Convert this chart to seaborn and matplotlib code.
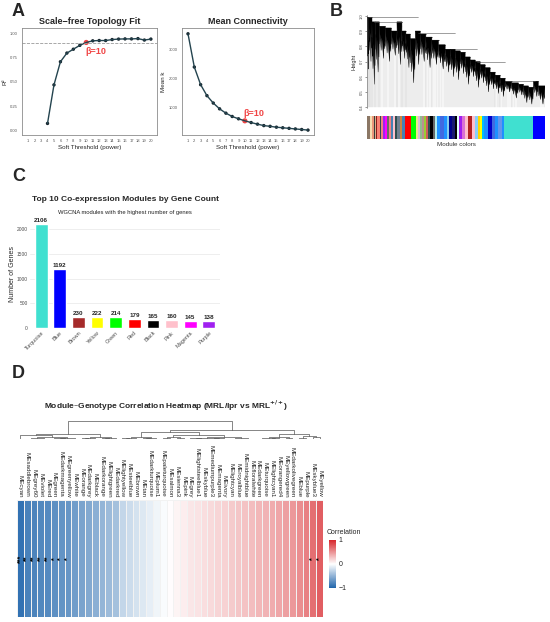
import numpy as np
import pandas as pd
import matplotlib
matplotlib.use("Agg")
import matplotlib.pyplot as plt
import seaborn as sns
from matplotlib.colors import LinearSegmentedColormap

# ---------------- data ----------------
# A: soft threshold selection
r2_powers = [4, 5, 6, 7, 8, 9, 10, 11, 12, 13, 14, 15, 16, 17, 18, 19, 20]
r2_values = [0.07, 0.47, 0.71, 0.80, 0.84, 0.88, 0.91, 0.927, 0.93, 0.93, 0.94,
             0.945, 0.947, 0.947, 0.95, 0.935, 0.945]
k_powers = list(range(1, 21))
mean_k = [3560, 2410, 1800, 1420, 1165, 965, 815, 700, 620, 550, 490, 435, 385,
          360, 330, 310, 290, 270, 250, 230]
chosen_power = 10
r2_cutoff = 0.9

# B: gene dendrogram, coarse clades (leaf width, top height, deepest tip)
clade_widths = [5, 10, 10, 12, 18, 18, 17, 15, 12, 13, 15, 15, 17, 18, 20, 20, 15, 15,
                15, 15, 15, 15, 15, 15, 15, 15, 15, 15, 20, 20, 15, 15, 15, 15, 20]
clade_tops = [0.99, 0.99, 0.96, 0.96, 0.93, 0.92, 0.90, 0.96, 0.90, 0.88, 0.85, 0.90,
              0.88, 0.86, 0.84, 0.81, 0.78, 0.78, 0.77, 0.76, 0.73, 0.71, 0.70, 0.68,
              0.66, 0.63, 0.61, 0.59, 0.57, 0.56, 0.55, 0.54, 0.53, 0.57, 0.54]
clade_bottoms = [0.65, 0.70, 0.55, 0.63, 0.72, 0.70, 0.74, 0.68, 0.72, 0.66, 0.56, 0.68,
                 0.70, 0.66, 0.68, 0.65, 0.63, 0.60, 0.58, 0.62, 0.55, 0.60, 0.53, 0.56,
                 0.50, 0.52, 0.49, 0.47, 0.50, 0.46, 0.48, 0.43, 0.42, 0.47, 0.42]
# upper merges: (from leaf, to leaf, height)
upper_merges = [(2, 153, 0.99), (20, 105, 0.96), (153, 265, 0.89), (265, 330, 0.785),
                (330, 415, 0.70), (415, 505, 0.575)]
# module colour strip along the dendrogram order
strip_colors = ["#8b7765", "#f5deb3", "#e9967a", "#3b3b3b", "#d2b48c", "#8b1a1a", "#fa8072",
                "#2f4f4f", "#f08080", "#a020f0", "#ff00ff", "#696969", "#f08080", "#4682b4",
                "#ffc0cb", "#2f4f4f", "#708090", "#cd853f", "#4682b4", "#ff0000", "#00ff00",
                "#f0e68c", "#d8bfd8", "#8fbc8f", "#bc8f8f", "#9acd32", "#cd5c5c", "#2f4f4f",
                "#000000", "#696969", "#afeeee", "#1e90ff", "#4169e1", "#1e90ff", "#87ceeb",
                "#00008b", "#191970", "#000000", "#e0ffff", "#a020f0", "#da70d6", "#ffc0cb",
                "#b22222", "#ffc0cb", "#87cefa", "#ffd700", "#ffff00", "#00bfff", "#1e90ff",
                "#0000cd", "#4169e1", "#1e90ff", "#6495ed", "#1e90ff", "#40e0d0", "#0000ff"]
strip_sizes = [8, 6, 6, 3, 5, 3, 7, 4, 7, 4, 7, 5, 7, 6, 7, 6, 7, 8, 7, 19, 15, 6, 6, 6,
               6, 6, 6, 6, 8, 6, 8, 9, 10, 10, 7, 8, 10, 6, 6, 8, 10, 10, 12, 8, 8, 6, 8,
               6, 12, 10, 10, 10, 10, 8, 87, 35]

# C: top 10 modules
modules = ["Turquoise", "Blue", "Brown", "Yellow", "Green", "Red", "Black", "Pink",
           "Magenta", "Purple"]
gene_counts = [2106, 1192, 230, 222, 214, 179, 165, 160, 145, 138]
module_hex = ["#40E0D0", "#0000FF", "#A52A2A", "#FFFF00", "#00FF00", "#FF0000",
              "#000000", "#FFC0CB", "#FF00FF", "#A020F0"]

# D: module-genotype correlation
me_names = ["MEcyan", "MEsaddlebrown", "MEgrey60", "MEviolet", "MEred", "MEgreen",
            "MEdarkmagenta", "MEgreenyellow", "MEwhite", "MEorange", "MEdarkgrey",
            "MEblack", "MEdarkorange", "MElightgreen", "MEdarkred", "MElightyellow",
            "MEsteelblue", "MEbrown", "MEtan", "MEdarkturquoise", "MEplum1",
            "MEpaleturquoise", "MEsalmon", "MEsienna3", "MEpink", "MEgrey",
            "MElightsteelblue1", "MEskyblue", "MEmediumpurple3", "MEmagenta", "MEivory",
            "MElightcyan", "MEroyalblue", "MEmidnightblue", "MEfloralwhite", "MEdarkgreen",
            "MEturquoise", "MElightcyan1", "MEorangered4", "MEyellowgreen",
            "MEdarkolivegreen", "MEblue", "MEpurple", "MEskyblue3", "MEyellow"]
me_corr = [-0.92, -0.82, -0.80, -0.78, -0.76, -0.72, -0.70, -0.68, -0.64, -0.60, -0.56,
           -0.52, -0.48, -0.44, -0.40, -0.27, -0.23, -0.19, -0.15, -0.11, -0.07, -0.03,
           0.01, 0.05, 0.08, 0.11, 0.13, 0.15, 0.17, 0.19, 0.21, 0.24, 0.26, 0.28, 0.30,
           0.33, 0.35, 0.38, 0.41, 0.44, 0.47, 0.52, 0.58, 0.66, 0.74]
me_stars = ["***", "**", "**", "**", "**", "*", "*", "*"] + [""] * 35 + ["*", "*"]

# ---------------- style ----------------
sns.set_style("white")
plt.rcParams['font.family'] = ['Liberation Sans', 'DejaVu Sans']

W, H = 550, 622
fig = plt.figure(figsize=(W / 100, H / 100), dpi=100)


def px_rect(x0, y0, x1, y1):
    return [x0 / W, 1 - y1 / H, (x1 - x0) / W, (y1 - y0) / H]


def box_style(ax):
    for s in ax.spines.values():
        s.set_color("#8c8c8c")
        s.set_linewidth(0.6)
    ax.tick_params(labelsize=3, colors="#555555", length=1.5, width=0.4, pad=1.5)


line_col = "#24444f"
pt_col = "#15232b"
red = "#f04545"

# ---------------- A left ----------------
ax1 = fig.add_axes(px_rect(22, 28, 157, 135))
sns.lineplot(x=r2_powers, y=r2_values, ax=ax1, color=line_col, lw=1)
sns.scatterplot(x=r2_powers, y=r2_values, ax=ax1, color=pt_col, s=6, edgecolor="none")
ax1.axhline(r2_cutoff, color="#9a9a9a", lw=0.6, ls="--")
i10 = r2_powers.index(chosen_power)
sns.scatterplot(x=[chosen_power], y=[r2_values[i10]], ax=ax1, color=red, s=14,
                edgecolor="none")
ax1.text(chosen_power - 0.1, 0.82, "β=10", color=red, fontsize=6.5, fontweight="bold",
         ha="left", va="center")
ax1.set_xlim(0.05, 20.95)
ax1.set_ylim(-0.05, 1.06)
ax1.set_xticks(k_powers)
ax1.set_yticks([0, 0.25, 0.5, 0.75, 1.0])
ax1.set_yticklabels(["0.00", "0.25", "0.50", "0.75", "1.00"])
ax1.set_xlabel("Soft Threshold (power)", fontsize=4.5, labelpad=1.5)
ax1.set_ylabel("R²", fontsize=4.5, labelpad=2)
ax1.set_title("Scale−free Topology Fit", fontsize=6.5, fontweight="bold", pad=3)
box_style(ax1)

# ---------------- A right ----------------
ax2 = fig.add_axes(px_rect(182, 28, 314, 135))
sns.lineplot(x=k_powers, y=mean_k, ax=ax2, color=line_col, lw=1)
sns.scatterplot(x=k_powers, y=mean_k, ax=ax2, color=pt_col, s=6, edgecolor="none")
sns.scatterplot(x=[chosen_power], y=[mean_k[chosen_power - 1]], ax=ax2, color=red, s=14,
                edgecolor="none")
ax2.text(chosen_power - 0.3, 790, "β=10", color=red, fontsize=6.5, fontweight="bold",
         ha="left", va="center")
ax2.set_xlim(0.05, 20.95)
ax2.set_ylim(60, 3760)
ax2.set_xticks(k_powers)
ax2.set_yticks([1000, 2000, 3000])
ax2.set_xlabel("Soft Threshold (power)", fontsize=4.5, labelpad=1.5)
ax2.set_ylabel("Mean k", fontsize=4.5, labelpad=2)
ax2.set_title("Mean Connectivity", fontsize=6.5, fontweight="bold", pad=3)
box_style(ax2)

# ---------------- B dendrogram ----------------
axb = fig.add_axes(px_rect(367, 15, 545, 108))
edges = np.concatenate([[0], np.cumsum(clade_widths)])
# jagged outline of one clade: (fraction of width, fraction of depth)
spike_x = [0.0, 0.08, 0.16, 0.3, 0.42, 0.55, 0.7, 0.82, 0.92, 1.0]
spike_d = [0.0, 0.55, 0.25, 0.75, 0.35, 0.6, 1.0, 0.45, 0.7, 0.1]
for lo, hi, top, bot in zip(edges[:-1], edges[1:], clade_tops, clade_bottoms):
    w = hi - lo
    d = top - bot
    xs = [lo + f * w for f in spike_x]
    ys = [top - f * d for f in spike_d]
    for x, y in zip(xs[1::2], ys[1::2]):
        axb.plot([x, x], [y, 0.4], color="#d0d0d0", lw=0.3, zorder=1)
    axb.fill(xs + [hi, lo], ys + [top, top], color="black", lw=0.3, zorder=2)
    axb.plot([lo, hi], [top, top], color="black", lw=0.4, zorder=3)
for a, b, h in upper_merges:
    axb.plot([a, b], [h, h], color="#555555", lw=0.4, zorder=3)
axb.set_xlim(0, edges[-1])
axb.set_ylim(0.395, 1.005)
axb.set_yticks([0.4, 0.5, 0.6, 0.7, 0.8, 0.9, 1.0])
axb.set_yticklabels(["0.4", "0.5", "0.6", "0.7", "0.8", "0.9", "1.0"], rotation=90,
                    va="center")
axb.set_xticks([])
axb.set_ylabel("Height", fontsize=4, labelpad=2)
for k in ["top", "right", "bottom"]:
    axb.spines[k].set_visible(False)
axb.spines["left"].set_linewidth(0.4)
axb.spines["left"].set_color("#666666")
axb.tick_params(axis="y", labelsize=3, length=1.5, width=0.4, pad=1, left=True,
                colors="#444444")

axs = fig.add_axes(px_rect(367, 116, 545, 139))
lefts = np.concatenate([[0], np.cumsum(strip_sizes)[:-1]])
axs.bar(lefts, [1] * len(strip_sizes), width=strip_sizes, color=strip_colors,
        align="edge", lw=0)
axs.set_xlim(0, sum(strip_sizes))
axs.set_ylim(0, 1)
axs.axis("off")
fig.text(456 / W, 1 - 145 / H, "Module colors", fontsize=4.5, ha="center", va="center",
         color="#333333")

# ---------------- C bar chart ----------------
axc = fig.add_axes(px_rect(30, 219.4, 220, 328))
sns.barplot(x=modules, y=gene_counts, hue=modules, palette=module_hex, legend=False,
            ax=axc, width=0.69, saturation=1)
for cont in axc.containers:
    axc.bar_label(cont, fontsize=4.5, fontweight="bold", padding=0.8)
axc.set_ylim(0, 2200)
axc.set_xlim(-0.6, 9.6)
axc.set_yticks([0, 500, 1000, 1500, 2000])
sns.despine(ax=axc, left=True, bottom=True)
axc.grid(axis="y", color="#ebebeb", lw=0.6)
axc.set_axisbelow(True)
axc.tick_params(labelsize=3.5, colors="#4d4d4d", length=0, pad=1.5)
plt.setp(axc.get_xticklabels(), rotation=45, ha="right", rotation_mode="anchor",
         fontsize=4)
axc.set_xlabel("")
axc.set_ylabel("Number of Genes", fontsize=5, labelpad=1)
axc.set_title("Top 10 Co-expression Modules by Gene Count", fontsize=6, fontweight="bold",
              pad=13)
axc.text(0.5, 1.06, "WGCNA modules with the highest number of genes", fontsize=4.2,
         ha="center", va="center", transform=axc.transAxes, color="#222222")

# ---------------- D heatmap ----------------
cmap = LinearSegmentedColormap.from_list("rb", ["#2166AC", "#FFFFFF", "#D7262B"])
axh = fig.add_axes(px_rect(17, 500, 323, 617))
cax = fig.add_axes(px_rect(329, 540, 336, 588))
corr_df = pd.DataFrame([me_corr], columns=me_names)
sns.heatmap(corr_df, ax=axh, cmap=cmap, vmin=-1, vmax=1, cbar_ax=cax,
            annot=np.array([me_stars]), fmt="", linewidths=0.5, linecolor="#f2f2f2",
            annot_kws=dict(rotation=90, fontsize=5, color="black", fontweight="bold"),
            yticklabels=False)
axh.xaxis.tick_top()
axh.set_xticks(np.arange(len(me_names)) + 0.5)
axh.set_xticklabels(me_names, rotation=270, fontsize=4.5, va="bottom", ha="center")
axh.tick_params(axis="x", length=0, pad=2)
axh.set_xlabel("")
cax.set_yticks([-1, 0, 1])
cax.set_yticklabels(["−1", "0", "1"])
cax.tick_params(labelsize=5, length=0, pad=2)
for sp in cax.spines.values():
    sp.set_visible(False)
fig.text(327 / W, 1 - 532 / H, "Correlation", fontsize=5, ha="left", va="center")


# column dendrogram: average linkage restricted to neighbouring columns
def neighbour_linkage(vals):
    vals = np.asarray(vals)
    groups = [[i] for i in range(len(vals))]
    pos = [i + 0.5 for i in range(len(vals))]
    hts = [0.0] * len(vals)
    links = []
    while len(groups) > 1:
        dists = [np.abs(vals[groups[i]][:, None] - vals[groups[i + 1]][None, :]).mean()
                 for i in range(len(groups) - 1)]
        i = int(np.argmin(dists))
        d = max(dists[i], hts[i], hts[i + 1])
        links.append((pos[i], hts[i], pos[i + 1], hts[i + 1], d))
        groups[i:i + 2] = [groups[i] + groups[i + 1]]
        pos[i:i + 2] = [(pos[i] + pos[i + 1]) / 2]
        hts[i:i + 2] = [d]
    return links


axd = fig.add_axes(px_rect(17, 421, 323, 439))
links = neighbour_linkage(me_corr)
for x1, h1, x2, h2, d in links:
    axd.plot([x1, x1, x2, x2], [h1, d, d, h2], color="#555555", lw=0.5)
axd.set_xlim(0, len(me_names))
axd.set_ylim(0, max(l[4] for l in links) * 1.02)
axd.axis("off")

fig.text(166 / W, 1 - 406 / H,
         r"Module–Genotype Correlation Heatmap (MRL/lpr vs MRL$^{\mathbf{+/+}}$)",
         fontsize=6, fontweight="bold", ha="center", va="center")

# panel letters
for lab, x, y in [("A", 12, 11), ("B", 330, 11), ("C", 12, 177), ("D", 12, 374)]:
    fig.text(x / W, 1 - y / H, lab, fontsize=13, fontweight="bold", ha="left",
             va="center")

fig.savefig("out.png", dpi=100)
